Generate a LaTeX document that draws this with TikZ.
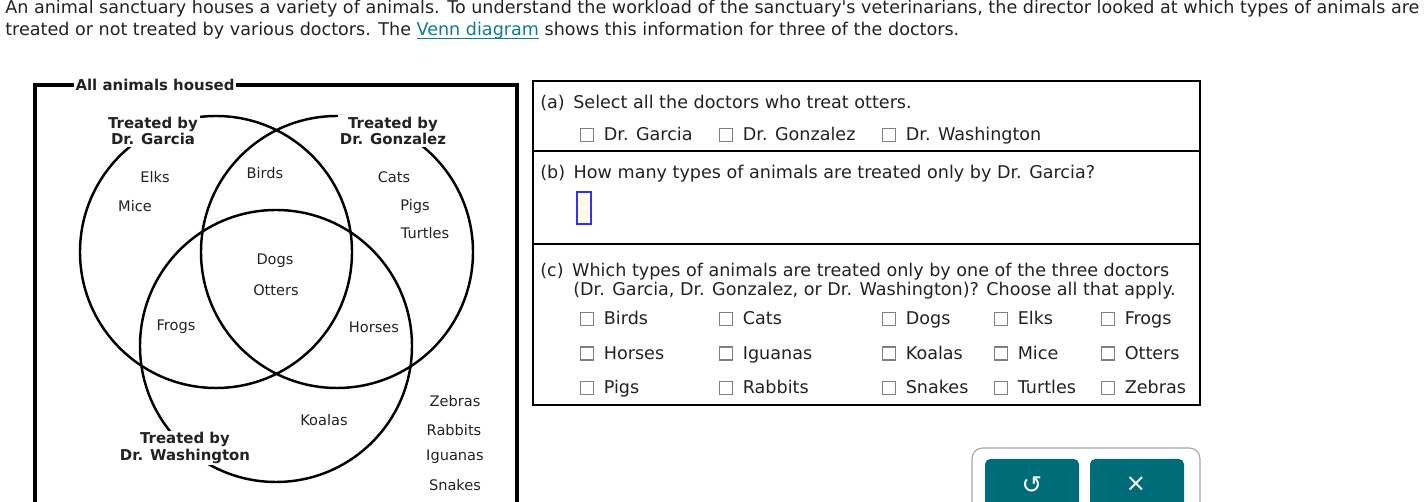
\documentclass[tikz,border=0pt]{standalone}
\usepackage{fontspec}
\setmainfont{DejaVu Sans}
\usetikzlibrary{matrix}
\definecolor{ink}{HTML}{222222}
\definecolor{linkteal}{HTML}{0E7C8C}
\definecolor{btnteal}{HTML}{006C7A}
\definecolor{boxgray}{HTML}{808080}
\definecolor{inputblue}{HTML}{3030FF}
\definecolor{inputfill}{HTML}{FFFBE6}
\definecolor{panelgray}{HTML}{9AA9B0}
\newcommand{\cbx}{{\color{boxgray}\fboxsep=0pt\fboxrule=0.6pt\fbox{\rule{0pt}{6.8pt}\rule{6.8pt}{0pt}}}\hspace{5.4pt}}
\newcommand{\lnk}[1]{{\color{linkteal}\setbox0\hbox{#1}\rlap{\rule[-1.6pt]{\wd0}{0.55pt}}\box0}}

\begin{document}
\begin{tikzpicture}[x=0.02cm, y=-0.02cm,
    every node/.style={text=ink, inner sep=0pt},
    txt/.style={font=\fontsize{10}{12}\selectfont, anchor=base west},
    venn/.style={draw, line width=1.4pt},
    animal/.style={font=\fontsize{8.3}{10}\selectfont},
    doc/.style={font=\fontsize{8.5}{9.6}\selectfont\bfseries, fill=white, align=center, inner sep=1pt},
    btn/.style={fill=btnteal, rounded corners=3pt},
  ]
  \useasboundingbox (0,0) rectangle (1428,502);
  \clip (0,0) rectangle (1428,502);

  % intro text
  \node[txt] (l1) at (5,14) {An animal sanctuary houses a variety of animals. To understand the workload of the sanctuary\textquotesingle s veterinarians, the director looked at which types of animals are};
  \node[txt] (l2) at (5,36) {treated or not treated by various doctors. The \lnk{Venn diagram} shows this information for three of the doctors.};

  % venn diagram
  \draw[line width=2.3pt] (35,85) rectangle (517,560);
  \node[font=\fontsize{8.5}{10}\selectfont\bfseries, fill=white, inner sep=1pt] (all) at (155,85) {All animals housed};
  \draw[venn] (216,252) circle[radius=136];
  \draw[venn] (337,252) circle[radius=136];
  \draw[venn] (276,346) circle[radius=136];
  \node[doc] (garcia) at (153,131) {Treated by\\Dr. Garcia};
  \node[doc] (gonzalez) at (393,131) {Treated by\\Dr. Gonzalez};
  \node[doc] (washington) at (185,448) {Treated by\\Dr. Washington};
  \node[animal] (elks) at (155,177) {Elks};
  \node[animal] (mice) at (135,206) {Mice};
  \node[animal] (birds) at (265,173) {Birds};
  \node[animal] (cats) at (394,177) {Cats};
  \node[animal] (pigs) at (415,206) {Pigs};
  \node[animal] (turtles) at (425,233) {Turtles};
  \node[animal] (dogs) at (275,261) {Dogs};
  \node[animal] (otters) at (276,290) {Otters};
  \node[animal] (frogs) at (176,327) {Frogs};
  \node[animal] (horses) at (374,327) {Horses};
  \node[animal] (koalas) at (324,420) {Koalas};
  \node[animal] (zebras) at (455,401) {Zebras};
  \node[animal] (rabbits) at (454,430) {Rabbits};
  \node[animal] (iguanas) at (455,457) {Iguanas};
  \node[animal] (snakes) at (455,485) {Snakes};

  % questions
  \draw[line width=0.6pt] (533,81) rectangle (1200,405);
  \draw[line width=0.6pt] (533,151) -- (1200,151);
  \draw[line width=0.6pt] (533,244) -- (1200,244);
  \node[txt] (qa) at (540,109) {(a)\, Select all the doctors who treat otters.};
  \node[txt] (ga) at (580,141) {\cbx Dr. Garcia};
  \node[txt] (go) at (719,141) {\cbx Dr. Gonzalez};
  \node[txt] (wa) at (882,141) {\cbx Dr. Washington};
  \node[txt] (qb) at (540,179) {(b)\, How many types of animals are treated only by Dr. Garcia?};
  \node[draw=inputblue, fill=inputfill, line width=0.6pt, minimum width=0.28cm, minimum height=0.64cm] (answer) at (584,208) {};
  \node[txt] (qc) at (540,277) {(c)\, Which types of animals are treated only by one of the three doctors};
  \node[txt] (qc2) at (573,296) {(Dr. Garcia, Dr. Gonzalez, or Dr. Washington)? Choose all that apply.};
  \matrix (C) [matrix of nodes, matrix anchor=C-1-1.base west,
      nodes={font=\fontsize{10}{12}\selectfont, anchor=base west, inner sep=0pt},
      column 1/.style={nodes={text width=2.78cm}},
      column 2/.style={nodes={text width=3.26cm}},
      column 3/.style={nodes={text width=2.24cm}},
      column 4/.style={nodes={text width=2.14cm}},
      column 5/.style={nodes={text width=1.8cm}},
      row sep={0.69cm,between origins}, column sep=0pt
    ] at (580,325)
    {
      \cbx Birds & \cbx Cats & \cbx Dogs & \cbx Elks & \cbx Frogs \\
      \cbx Horses & \cbx Iguanas & \cbx Koalas & \cbx Mice & \cbx Otters \\
      \cbx Pigs & \cbx Rabbits & \cbx Snakes & \cbx Turtles & \cbx Zebras \\
    };

  % buttons
  \draw[panelgray, line width=0.6pt, rounded corners=6pt, fill=white] (972,448) rectangle (1200,540);
  \fill[btn] (985,459) rectangle (1079,540);
  \fill[btn] (1090,459) rectangle (1184,540);
  \node[text=white, font=\fontsize{14}{14}\selectfont] (undo) at (1032,485) {↺};
  \node[text=white, font=\fontsize{14}{14}\selectfont] (close) at (1136,484) {×};
\end{tikzpicture}
\end{document}
